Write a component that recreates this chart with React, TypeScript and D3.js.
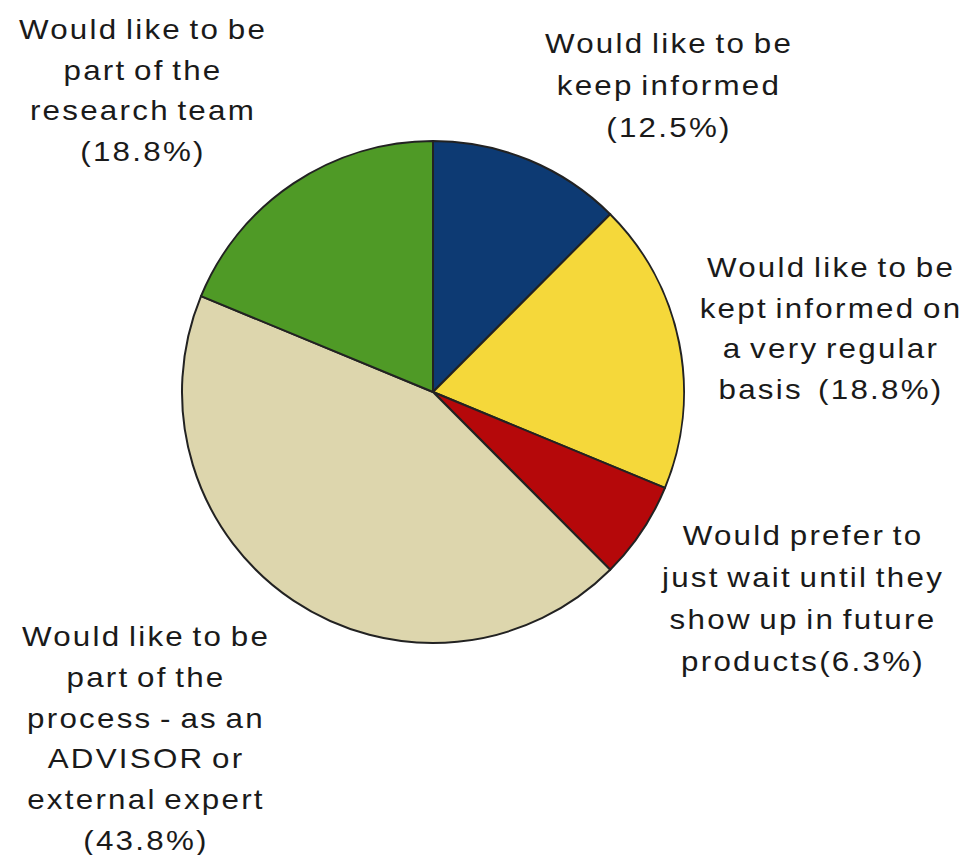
import React from "react";
import * as d3 from "d3";

const categories = [
  "Would like to be keep informed",
  "Would like to be kept informed on a very regular basis",
  "Would prefer to just wait until they show up in future products",
  "Would like to be part of the process - as an ADVISOR or external expert",
  "Would like to be part of the research team",
];
const values = [12.5, 18.8, 6.3, 43.8, 18.8];
const colors = ["#0d3a73", "#f5d83a", "#b5080a", "#ddd6ad", "#4f9a26"];
const labelLines = [
  ["Would like to be", "keep informed", "(12.5%)"],
  ["Would like to be", "kept informed on", "a very regular", "basis  (18.8%)"],
  ["Would prefer to", "just wait until they", "show up in future", "products(6.3%)"],
  ["Would like to be", "part of the", "process - as an", "ADVISOR or", "external expert", "(43.8%)"],
  ["Would like to be", "part of the", "research team", "(18.8%)"],
];

// layout of label blocks (center x, first baseline, line pitch)
const labelLayout = [
  { x: 668, y: 53, lh: 42 },
  { x: 830, y: 277, lh: 40.5 },
  { x: 802, y: 545, lh: 42 },
  { x: 145, y: 646, lh: 40.8 },
  { x: 142, y: 39, lh: 40.7 },
];

const W = 968;
const H = 855;
const cx = 433;
const cy = 392;
const R = 251;

export default function App() {
  const pie = d3
    .pie<number>()
    .sort(null)
    .value((d) => d)
    .startAngle(0)
    .endAngle(2 * Math.PI);
  const arcs = pie(values);
  const arc = d3.arc<d3.PieArcDatum<number>>().innerRadius(0).outerRadius(R);

  return (
    <svg
      width={W}
      height={H}
      style={{ position: "absolute", left: 0, top: 0, background: "#fff" }}
    >
      <rect width={W} height={H} fill="#fff" />
      <g transform={`translate(${cx},${cy})`}>
        {arcs.map((a, i) => (
          <path
            key={categories[i]}
            d={arc(a) || ""}
            fill={colors[i]}
            stroke="#222"
            strokeWidth={2}
            strokeLinejoin="round"
          />
        ))}
      </g>
      {labelLines.map((lines, i) => {
        const L = labelLayout[i];
        return (
          <g key={i}>
            {lines.map((t, j) => (
              <text
                key={j}
                transform={`translate(${L.x + 1},${L.y + j * L.lh}) scale(1.12,1)`}
                textAnchor="middle"
                fontFamily="'Liberation Sans', Arial, sans-serif"
                fontSize={28}
                letterSpacing={2}
                wordSpacing={-3}
                fill="#1a1a1a"
                style={{ whiteSpace: "pre" }}
              >
                {t}
              </text>
            ))}
          </g>
        );
      })}
    </svg>
  );
}
